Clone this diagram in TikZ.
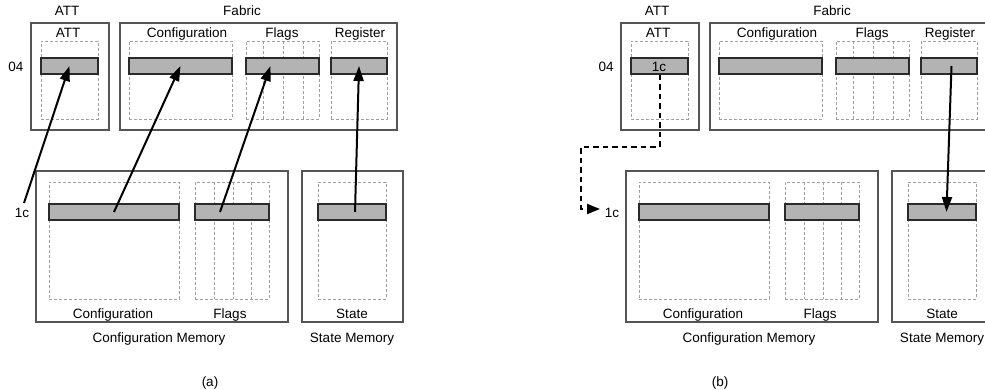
\documentclass[tikz,border=0pt]{standalone}
\usepackage{fontspec}
\setmainfont{Liberation Sans}
\usetikzlibrary{arrows.meta}
\definecolor{boxgray}{HTML}{555555}
\definecolor{dashgray}{HTML}{A0A0A0}
\definecolor{barfill}{HTML}{B3B3B3}
\definecolor{barline}{HTML}{2A2A2A}
\tikzset{
  outerbox/.style={draw=boxgray, line width=1.3pt, inner sep=0},
  dashbox/.style={draw=dashgray, line width=0.8pt, dash pattern=on 3pt off 2pt, inner sep=0},
  divline/.style={draw=dashgray, line width=0.8pt, dash pattern=on 3pt off 2pt},
  regbar/.style={draw=barline, fill=barfill, line width=1.3pt, minimum height=16pt, inner sep=0},
  lbl/.style={anchor=base, inner sep=0},
  arr/.style={draw=black, line width=2pt, -{Triangle[length=15pt,width=10pt]}},
  dasharr/.style={draw=black, line width=2pt, dash pattern=on 5.5pt off 4pt, -{Triangle[length=13pt,width=10pt]}}
}
\newcommand{\drawpanel}[1]{%
  % upper outer boxes
  \node[outerbox, minimum width=78pt, minimum height=107pt] (#1ATTbox) at (70,76.5) {};
  \node[outerbox, minimum width=277pt, minimum height=107pt] (#1Fabbox) at (258.5,76.5) {};
  \node[lbl] (#1ATTtop) at (67,16) {ATT};
  \node[lbl] (#1Fabtop) at (242,16) {Fabric};
  \node[lbl] (#1ATTin) at (68,38) {ATT};
  \node[lbl] (#1Cfgin) at (187,38) {Configuration};
  \node[lbl] (#1Flgin) at (282,38) {Flags};
  \node[lbl] (#1Regin) at (360,38) {Register};
  \node[lbl] (#1zerofour) at (16,72) {04};
  % upper dashed regions
  \node[dashbox, minimum width=57pt, minimum height=78pt] (#1ATTd) at (69.5,80) {};
  \node[dashbox, minimum width=103pt, minimum height=78pt] (#1Cfgd) at (180.5,80) {};
  \node[dashbox, minimum width=73pt, minimum height=78pt] (#1Flgd) at (282.5,80) {};
  \node[dashbox, minimum width=56pt, minimum height=78pt] (#1Regd) at (359,80) {};
  \draw[divline] (263,41) -- (263,119) (283,41) -- (283,119) (303,41) -- (303,119);
  % upper bars
  \node[regbar, minimum width=57pt] (#1ATTbar) at (69.5,66) {};
  \node[regbar, minimum width=103pt] (#1Cfgbar) at (180.5,66) {};
  \node[regbar, minimum width=73pt] (#1Flgbar) at (282.5,66) {};
  \node[regbar, minimum width=56pt] (#1Regbar) at (359,66) {};
  % lower outer boxes
  \node[outerbox, minimum width=252pt, minimum height=151pt] (#1CMbox) at (162,246.5) {};
  \node[outerbox, minimum width=101pt, minimum height=151pt] (#1SMbox) at (352.5,246.5) {};
  \node[dashbox, minimum width=130pt, minimum height=117pt] (#1CMcfgd) at (114,240.5) {};
  \node[dashbox, minimum width=74pt, minimum height=117pt] (#1CMflgd) at (232,240.5) {};
  \node[dashbox, minimum width=68pt, minimum height=117pt] (#1SMd) at (352,240.5) {};
  \draw[divline] (214,182) -- (214,299) (233,182) -- (233,299) (251,182) -- (251,299);
  \node[regbar, minimum width=130pt] (#1CMcfgbar) at (114,212) {};
  \node[regbar, minimum width=74pt] (#1CMflgbar) at (232,212) {};
  \node[regbar, minimum width=68pt] (#1SMbar) at (352,212) {};
  \node[lbl] (#1CMcfglbl) at (113,318) {Configuration};
  \node[lbl] (#1CMflglbl) at (230,318) {Flags};
  \node[lbl] (#1SMlbl) at (352,318) {State};
  \node[lbl] (#1CMname) at (159,342) {Configuration Memory};
  \node[lbl] (#1SMname) at (352,342) {State Memory};
}
\begin{document}
\begin{tikzpicture}[x=1pt, y=-1pt, font=\fontsize{13.5}{16}\selectfont]
\clip (0,0) rectangle (985,390);
\fill[white] (0,0) rectangle (985,390);
\drawpanel{a}
\begin{scope}[xshift=590pt]
\drawpanel{b}
\end{scope}
% panel (a) connectors
\coordinate (a1cpt) at (24,203);
\node[lbl] (a1c) at (22,218) {1c};
\draw[arr] (a1cpt) -- (aATTbar.center);
\draw[arr] (aCMcfgbar.center) -- (aCfgbar.center);
\draw[arr] ([xshift=-12pt]aCMflgbar.center) -- ([xshift=-12pt]aFlgbar.center);
\draw[arr] ([xshift=3pt]aSMbar.center) -- (aRegbar.center);
% panel (b) connectors
\node[lbl] (b1cin) at (659,72) {1c};
\coordinate (bcorner) at (581,147);
\coordinate (btip) at (600,209);
\node[lbl] (b1c) at (612,218) {1c};
\draw[dasharr] (bATTbar.south) |- (bcorner) |- (btip);
\draw[arr] ([xshift=2.5pt]bRegbar.center) -- ([xshift=4.5pt]bSMbar.center);
% captions
\node[lbl] (capa) at (210,386) {(a)};
\node[lbl] (capb) at (720,386) {(b)};
\end{tikzpicture}
\end{document}
